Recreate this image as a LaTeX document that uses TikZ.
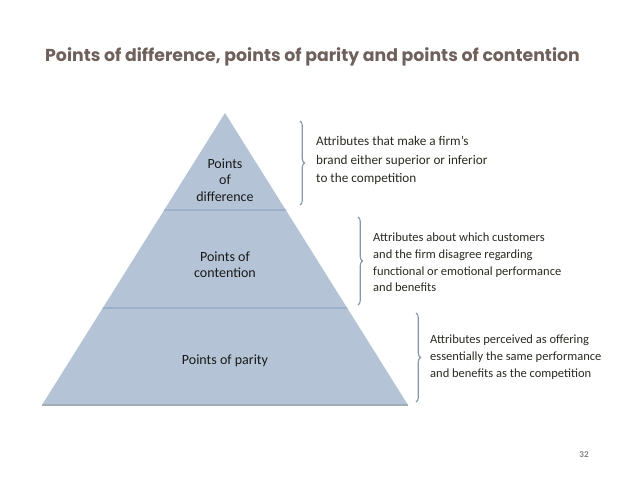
\documentclass[tikz,border=0pt]{standalone}
\usepackage{fontspec}
\setmainfont{Carlito}
\newfontfamily\titlefont{Poppins}
\usetikzlibrary{decorations.pathreplacing}
\definecolor{pyrfill}{HTML}{B4C4D6}
\definecolor{pyrline}{HTML}{9DB2CA}
\definecolor{basecol}{HTML}{A3ABB4}
\definecolor{titlecol}{HTML}{6E605B}
\definecolor{bracecol}{HTML}{8797A8}
\definecolor{bodytext}{HTML}{2A2A22}
\tikzset{
  x=1pt, y=-1pt,
  pyrlabel/.style={font=\fontsize{14}{16.5}\selectfont, text=black!90, align=center, inner sep=0pt},
  desc/.style={font=\fontsize{12.5}{16.8}\selectfont, text=bodytext, align=left, anchor=west, inner sep=0pt},
  bracket/.style={draw=bracecol, line width=1.1pt, decorate, decoration={brace, amplitude=4.5pt, aspect=0.5}},
}
\begin{document}
\begin{tikzpicture}
\useasboundingbox (0,0) rectangle (638,479);
% title
\node[font=\titlefont\bfseries\fontsize{17.3}{20}\selectfont, text=titlecol, anchor=west, inner sep=0pt] (title) at (45,57) {Points of difference, points of parity and points of contention};
% pyramid
\coordinate (apex) at (225,113);
\coordinate (bl) at (42,405);
\coordinate (br) at (408,405);
\fill[pyrfill] (apex) -- (br) -- (bl) -- cycle;
\begin{scope}
\clip (apex) -- (br) -- (bl) -- cycle;
\draw[pyrline, line width=2pt] (0,210) -- (638,210);
\draw[pyrline, line width=2pt] (0,308) -- (638,308);
\end{scope}
\draw[basecol, line width=1.2pt] (bl) -- (br);
\node[pyrlabel] (pod) at (225,180) {Points\\of\\difference};
\node[pyrlabel] (poc) at (225,264.5) {Points of\\contention};
\node[pyrlabel] (pop) at (225,361) {Points of parity};
% descriptions
\node[desc, font=\fontsize{13.2}{18.5}\selectfont] (d1) at (316,160.5) {Attributes that make a firm's\\brand either superior or inferior\\to the competition};
\node[desc] (d2) at (373,262.5) {Attributes about which customers\\and the firm disagree regarding\\functional or emotional performance\\and benefits};
\node[desc] (d3) at (430,357) {Attributes perceived as offering\\essentially the same performance\\and benefits as the competition};
% brackets
\coordinate (b1t) at (300,121); \coordinate (b1b) at (300,205);
\coordinate (b2t) at (358,217); \coordinate (b2b) at (358,305);
\coordinate (b3t) at (416,313); \coordinate (b3b) at (416,402);
\draw[bracket] (b1t) -- (b1b);
\draw[bracket] (b2t) -- (b2b);
\draw[bracket] (b3t) -- (b3b);
% page number
\node[font=\bfseries\fontsize{9}{10}\selectfont, text=black!50, inner sep=0pt] (pg) at (584,455) {32};
\end{tikzpicture}
\end{document}
